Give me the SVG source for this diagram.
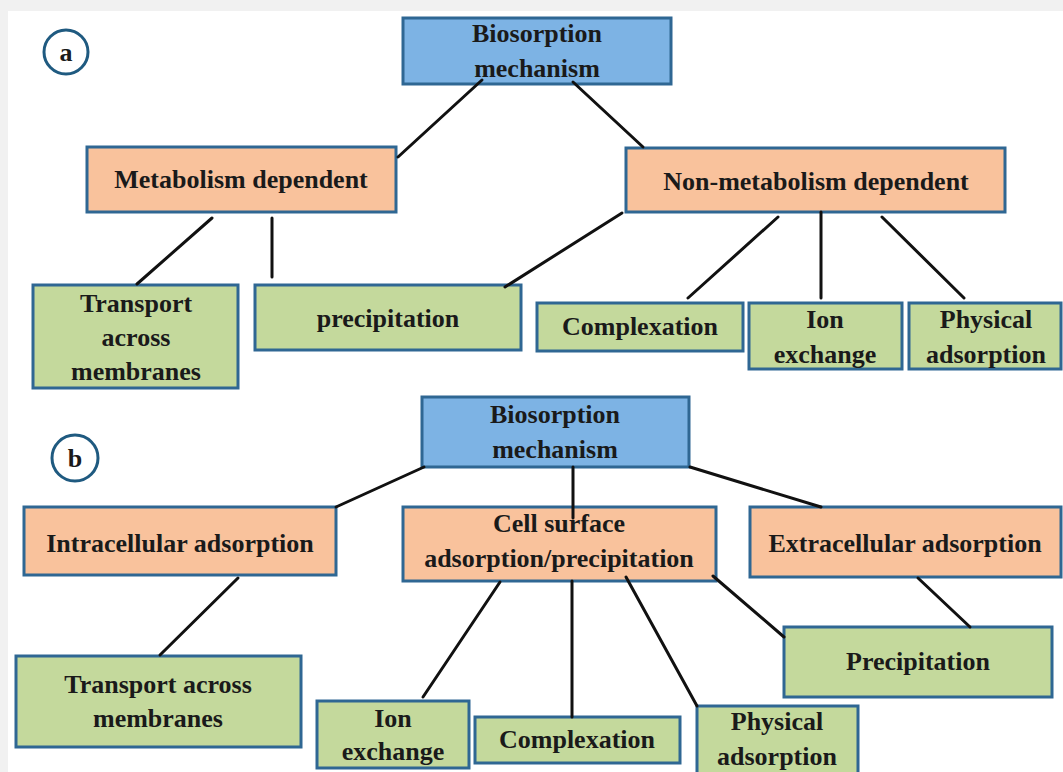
<svg xmlns="http://www.w3.org/2000/svg" width="1063" height="772" viewBox="0 0 1063 772">
<style>
.bg{fill:#f1f1f1}
.panel{fill:#ffffff}
.box{stroke:#2f6793;stroke-width:3}
.blue{fill:#7db3e4}
.orange{fill:#f9c29c}
.green{fill:#c4d99c}
.t{font-family:"Liberation Serif","Times New Roman",serif;font-weight:bold;font-size:26px;fill:#1a1a1a;text-anchor:middle}
.lbl{fill:#ffffff;stroke:#1f5a80;stroke-width:3}
.conn line{stroke:#111111;stroke-width:3;stroke-linecap:round}
</style>
<rect class="bg" x="0" y="0" width="1063" height="772"/>
<rect class="panel" x="8" y="11" width="1055" height="761"/>

<!-- panel labels -->
<g id="label-a"><circle class="lbl" cx="66" cy="52" r="22"/><text class="t" x="66" y="61">a</text></g>
<g id="label-b"><circle class="lbl" cx="75" cy="458" r="23"/><text class="t" x="75" y="467">b</text></g>

<!-- Panel a nodes -->
<g id="a-root"><rect class="box blue" x="403" y="18" width="268" height="66"/><text class="t" x="537" y="42">Biosorption</text><text class="t" x="537" y="77">mechanism</text></g>
<g id="a-metab"><rect class="box orange" x="87" y="147" width="309" height="65"/><text class="t" x="241" y="188">Metabolism dependent</text></g>
<g id="a-nonmetab"><rect class="box orange" x="626" y="148" width="379" height="64"/><text class="t" x="816" y="190">Non-metabolism dependent</text></g>
<g id="a-transport"><rect class="box green" x="33" y="285" width="205" height="103"/><text class="t" x="136" y="312">Transport</text><text class="t" x="136" y="346">across</text><text class="t" x="136" y="380">membranes</text></g>
<g id="a-precip"><rect class="box green" x="255" y="285" width="266" height="65"/><text class="t" x="388" y="327">precipitation</text></g>
<g id="a-complex"><rect class="box green" x="537" y="303" width="206" height="48"/><text class="t" x="640" y="335">Complexation</text></g>
<g id="a-ion"><rect class="box green" x="749" y="303" width="153" height="66"/><text class="t" x="825" y="328">Ion</text><text class="t" x="825" y="363">exchange</text></g>
<g id="a-phys"><rect class="box green" x="909" y="303" width="152" height="66"/><text class="t" x="986" y="328">Physical</text><text class="t" x="986" y="363">adsorption</text></g>

<!-- Panel b nodes -->
<g id="b-root"><rect class="box blue" x="422" y="397" width="267" height="70"/><text class="t" x="555" y="423">Biosorption</text><text class="t" x="555" y="458">mechanism</text></g>
<g id="b-intra"><rect class="box orange" x="24" y="507" width="312" height="68"/><text class="t" x="180" y="552">Intracellular adsorption</text></g>
<g id="b-cell"><rect class="box orange" x="403" y="507" width="313" height="74"/><text class="t" x="559" y="532">Cell surface</text><text class="t" x="559" y="567">adsorption/precipitation</text></g>
<g id="b-extra"><rect class="box orange" x="750" y="507" width="311" height="70"/><text class="t" x="905" y="552">Extracellular adsorption</text></g>
<g id="b-transport"><rect class="box green" x="16" y="656" width="285" height="91"/><text class="t" x="158" y="693">Transport across</text><text class="t" x="158" y="727">membranes</text></g>
<g id="b-ion"><rect class="box green" x="317" y="701" width="152" height="67"/><text class="t" x="393" y="727">Ion</text><text class="t" x="393" y="760">exchange</text></g>
<g id="b-complex"><rect class="box green" x="475" y="717" width="205" height="46"/><text class="t" x="577" y="748">Complexation</text></g>
<g id="b-phys"><rect class="box green" x="697" y="706" width="161" height="70"/><text class="t" x="777" y="730">Physical</text><text class="t" x="777" y="765">adsorption</text></g>
<g id="b-precip"><rect class="box green" x="784" y="627" width="268" height="70"/><text class="t" x="918" y="670">Precipitation</text></g>

<!-- connectors -->
<g id="connectors" class="conn">
<line x1="482" y1="80" x2="398" y2="157"/>
<line x1="573" y1="82" x2="643" y2="147"/>
<line x1="212" y1="218" x2="137" y2="284"/>
<line x1="272" y1="218" x2="272" y2="277"/>
<line x1="622" y1="213" x2="505" y2="287"/>
<line x1="778" y1="217" x2="688" y2="298"/>
<line x1="821" y1="212" x2="821" y2="298"/>
<line x1="882" y1="217" x2="964" y2="298"/>
<line x1="424" y1="467" x2="336" y2="507"/>
<line x1="573" y1="467" x2="573" y2="518"/>
<line x1="690" y1="467" x2="821" y2="507"/>
<line x1="238" y1="578" x2="160" y2="655"/>
<line x1="500" y1="582" x2="423" y2="697"/>
<line x1="572" y1="581" x2="572" y2="717"/>
<line x1="626" y1="577" x2="697" y2="706"/>
<line x1="713" y1="576" x2="784" y2="637"/>
<line x1="918" y1="578" x2="970" y2="627"/>
</g>
</svg>
